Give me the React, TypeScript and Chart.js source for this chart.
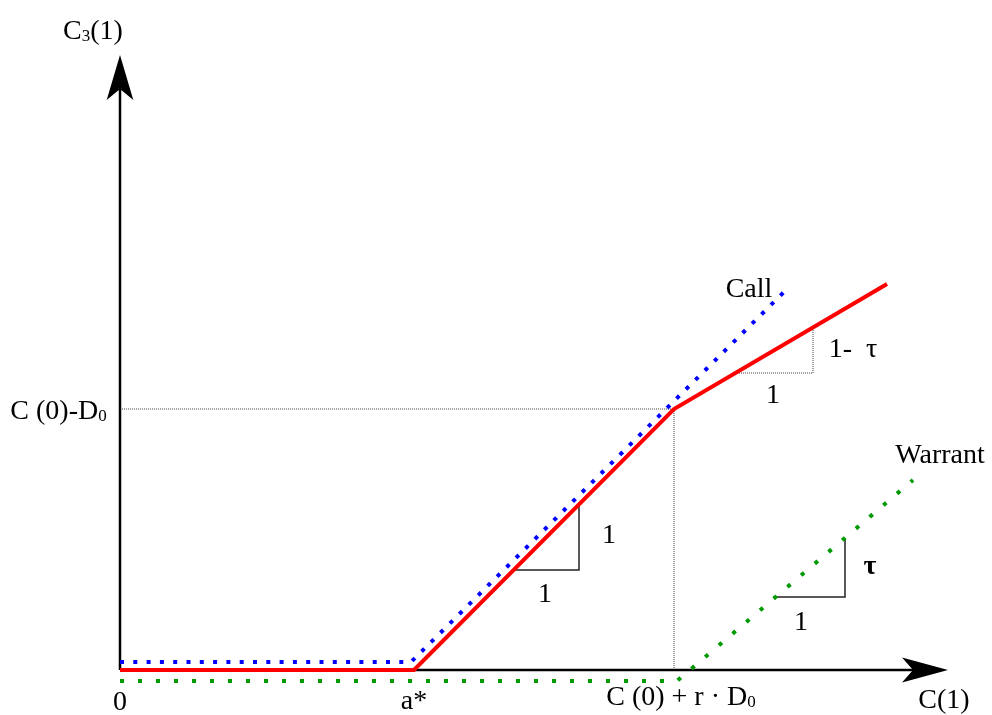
import React, { useEffect, useRef } from "react";
import Chart from "chart.js/auto";

// Equity payoff C3(1) (red)
const equityX = [0, 29.4, 55.4, 76.7];
const equityY = [0, 0, 26.1, 38.6];
// Call payoff (blue dotted)
const callX = [0, 29.1, 66.7];
const callY = [0.8, 0.8, 38.1];
// Warrant payoff (green dotted)
const warrantX = [0, 55.7, 79.3];
const warrantY = [-1.1, -1.1, 19.0];
// Guide lines to the kink
const guideX = [0, 55.4, 55.4];
const guideY = [26.1, 26.1, 0];
// Slope triangles
const slopeLowerX = [39.5, 45.9, 45.9];
const slopeLowerY = [10.0, 10.0, 16.5];
const slopeUpperX = [61.5, 69.3, 69.3];
const slopeUpperY = [29.7, 29.7, 34.2];
const slopeWarrantX = [65.3, 72.5, 72.5];
const slopeWarrantY = [7.3, 7.3, 13.2];
// Axes
const axisXLine = [0, 79.5];
const axisYLine = [0, 58.2];

type Seg = { t: string; sub?: boolean };
type Label = { segs: Seg[]; x: number; y: number; bold?: boolean };

const labels: Label[] = [
  { segs: [{ t: "C" }, { t: "3", sub: true }, { t: "(1)" }], x: -2.7, y: 63.1 },
  { segs: [{ t: "C (0)-D" }, { t: "0", sub: true }], x: -6.15, y: 25.1 },
  { segs: [{ t: "0" }], x: 0, y: -4.0 },
  { segs: [{ t: "a*" }], x: 29.4, y: -3.85 },
  { segs: [{ t: "C (0) + r · D" }, { t: "0", sub: true }], x: 56.1, y: -3.5 },
  { segs: [{ t: "C(1)" }], x: 82.4, y: -3.8 },
  { segs: [{ t: "Call" }], x: 62.9, y: 37.3 },
  { segs: [{ t: "Warrant" }], x: 82.0, y: 20.7 },
  { segs: [{ t: "1-  τ" }], x: 73.3, y: 31.3 },
  { segs: [{ t: "1" }], x: 65.3, y: 26.7 },
  { segs: [{ t: "1" }], x: 42.5, y: 6.8 },
  { segs: [{ t: "1" }], x: 48.9, y: 12.7 },
  { segs: [{ t: "τ" }], x: 75.0, y: 9.6, bold: true },
  { segs: [{ t: "1" }], x: 68.1, y: 4.0 },
];

const FONT = '"Liberation Serif", "Times New Roman", serif';
const SIZE = 28;

const zip = (xs: number[], ys: number[]) => xs.map((x, i) => ({ x, y: ys[i] }));

const overlayPlugin = {
  id: "overlay",
  afterDatasetsDraw(chart: any) {
    const { ctx, scales } = chart;
    const xs = scales.x;
    const ys = scales.y;
    const px = (v: number) => xs.getPixelForValue(v);
    const py = (v: number) => ys.getPixelForValue(v);
    ctx.save();
    ctx.fillStyle = "#000";
    // x-axis arrowhead (tip, base corners, notch)
    ctx.beginPath();
    ctx.moveTo(px(82.8), py(0));
    ctx.lineTo(px(78.2), py(1.25));
    ctx.lineTo(px(79.3), py(0));
    ctx.lineTo(px(78.2), py(-1.25));
    ctx.closePath();
    ctx.fill();
    // y-axis arrowhead
    ctx.beginPath();
    ctx.moveTo(px(0), py(61.5));
    ctx.lineTo(px(-1.33), py(57.0));
    ctx.lineTo(px(0), py(58.1));
    ctx.lineTo(px(1.33), py(57.0));
    ctx.closePath();
    ctx.fill();
    // labels
    ctx.textBaseline = "alphabetic";
    ctx.textAlign = "left";
    for (const lab of labels) {
      const w = lab.bold ? "bold " : "";
      const fontMain = `${w}${SIZE}px ${FONT}`;
      const fontSub = `${w}${Math.round(SIZE * 0.62)}px ${FONT}`;
      let total = 0;
      for (const s of lab.segs) {
        ctx.font = s.sub ? fontSub : fontMain;
        total += ctx.measureText(s.t).width;
      }
      let cx = px(lab.x) - total / 2;
      const by = py(lab.y);
      for (const s of lab.segs) {
        ctx.font = s.sub ? fontSub : fontMain;
        ctx.fillText(s.t, cx, s.sub ? by + 2 : by);
        cx += ctx.measureText(s.t).width;
      }
    }
    ctx.restore();
  },
};

export default function App() {
  const ref = useRef<HTMLCanvasElement | null>(null);
  useEffect(() => {
    if (!ref.current) return;
    const line = (data: any[], color: string, width: number, order: number, dash: number[] = []) => ({
      data,
      borderColor: color,
      backgroundColor: color,
      borderWidth: width,
      borderDash: dash,
      borderCapStyle: "butt",
      borderJoinStyle: "miter",
      pointRadius: 0,
      pointHoverRadius: 0,
      fill: false,
      tension: 0,
      order,
    });
    const chart = new Chart(ref.current, {
      type: "line",
      data: {
        datasets: [
          line(zip(equityX, equityY), "#ff0000", 4, 0),
          line(zip(callX, callY), "#0000ff", 4, 1, [4, 9.3]),
          line(zip(warrantX, warrantY), "#009a00", 4, 2, [4, 14]),
          line(zip(axisXLine, [0, 0]), "#000000", 2.5, 3),
          line(zip([0, 0], axisYLine), "#000000", 2.5, 3),
          line(zip(guideX, guideY), "#444444", 1, 4, [1, 1]),
          line(zip(slopeLowerX, slopeLowerY), "#222222", 1.5, 4),
          line(zip(slopeUpperX, slopeUpperY), "#444444", 1, 4, [1, 1]),
          line(zip(slopeWarrantX, slopeWarrantY), "#222222", 1.5, 4),
        ] as any,
      },
      options: {
        responsive: false,
        animation: false,
        events: [],
        layout: { padding: 0 },
        plugins: { legend: { display: false }, tooltip: { enabled: false } },
        scales: {
          x: { type: "linear", min: -12, max: 87.2, display: false },
          y: { type: "linear", min: -4.5, max: 67, display: false },
        },
      },
      plugins: [overlayPlugin],
    });
    return () => chart.destroy();
  }, []);
  return (
    <div style={{ position: "absolute", left: 0, top: 0, width: 992, height: 715, background: "#fff" }}>
      <canvas ref={ref} width={992} height={715} />
    </div>
  );
}
